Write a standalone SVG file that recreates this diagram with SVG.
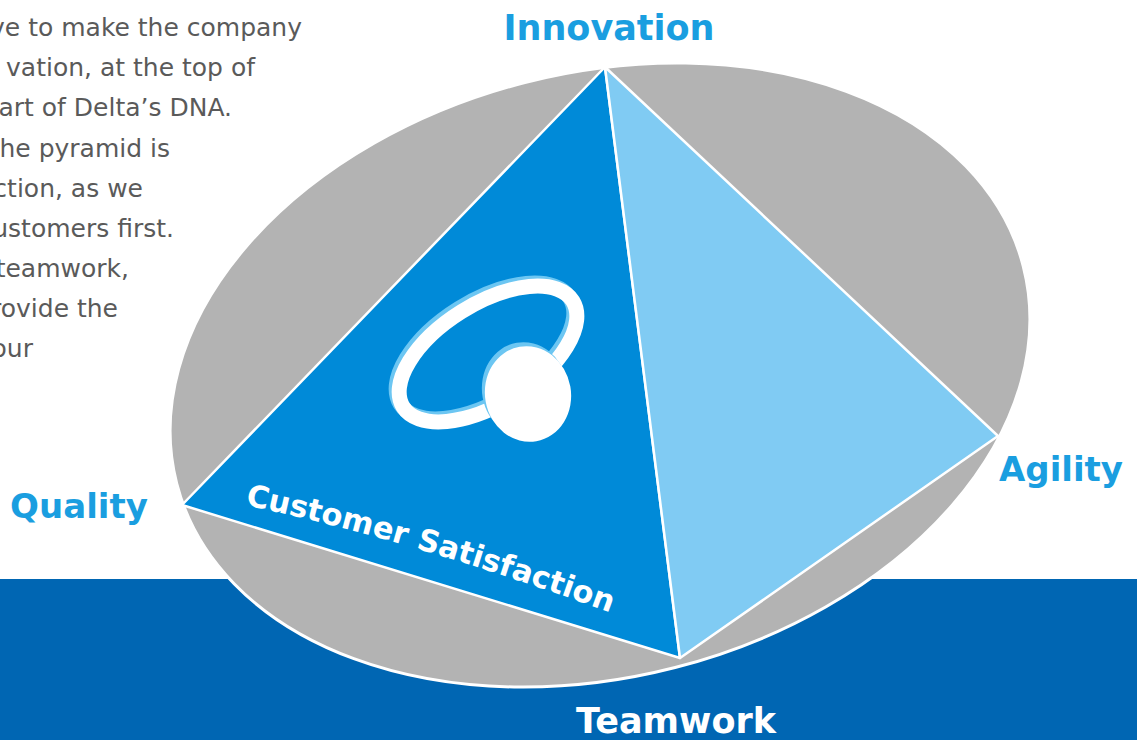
<svg xmlns="http://www.w3.org/2000/svg" width="1137" height="740" viewBox="0 0 1137 740">
  <style>
    .para { font-family: "DejaVu Sans", Verdana, sans-serif; font-size: 25px; fill: #5a5a5a; text-anchor: end; }
    .label { font-family: "DejaVu Sans", Verdana, sans-serif; font-weight: bold; font-size: 34px; fill: #1a9ee0; text-anchor: middle; }
    .face { stroke: #ffffff; stroke-width: 2.5; stroke-linejoin: round; }
  </style>
  <defs>
    <path id="arc" d="M 245 505 Q 420 542 622 617"/>
  </defs>
  <rect x="0" y="0" width="1137" height="740" fill="#ffffff"/>
  <rect id="band" x="0" y="579" width="1137" height="161" fill="#0066b3"/>

  <g id="paragraph">
    <text class="para" x="302" y="36">ve to make the company</text>
    <text class="para" x="255" y="76">vation, at the top of</text>
    <text class="para" x="232" y="116">art of Delta’s DNA.</text>
    <text class="para" x="170" y="157">he pyramid is</text>
    <text class="para" x="143" y="197">ction, as we</text>
    <text class="para" x="174" y="237">ustomers first.</text>
    <text class="para" x="129" y="277">teamwork,</text>
    <text class="para" x="118" y="317">rovide the</text>
    <text class="para" x="33" y="357">our</text>
  </g>

  <g id="ellipse-base">
    <ellipse cx="600" cy="375" rx="437" ry="302" transform="rotate(-14.4 600 375)" fill="#b3b3b3" stroke="#ffffff" stroke-width="3"/>
  </g>

  <g id="pyramid">
    <polygon id="face-left" class="face" points="605,67 182,505 680,658" fill="#008ad8"/>
    <polygon id="face-right" class="face" points="605,67 680,658 998,436" fill="#80cbf3"/>
  </g>

  <g id="logo">
    <ellipse cx="485" cy="351" rx="100" ry="50" transform="rotate(-32 485 351)" fill="none" stroke="#6cc6f2" stroke-width="15"/>
    <ellipse cx="488" cy="354" rx="100" ry="50" transform="rotate(-32 488 354)" fill="none" stroke="#ffffff" stroke-width="15"/>
    <ellipse cx="525" cy="390" rx="43" ry="48" transform="rotate(-10 525 390)" fill="#6cc6f2"/>
    <ellipse cx="528" cy="394" rx="43" ry="48" transform="rotate(-10 528 394)" fill="#ffffff"/>
  </g>

  <g id="customer-satisfaction">
    <text font-family="DejaVu Sans, Verdana, sans-serif" font-weight="bold" font-size="30.5" fill="#ffffff"><textPath href="#arc">Customer Satisfaction</textPath></text>
  </g>

  <g id="label-innovation"><text class="label" x="609" y="40" font-size="35" style="font-size:35px">Innovation</text></g>
  <g id="label-quality"><text class="label" x="79" y="518">Quality</text></g>
  <g id="label-agility"><text class="label" x="1061" y="481">Agility</text></g>
  <g id="label-teamwork"><text class="label" x="676" y="733" style="fill:#ffffff;font-size:35px">Teamwork</text></g>

  <g id="connectors"/>
</svg>
